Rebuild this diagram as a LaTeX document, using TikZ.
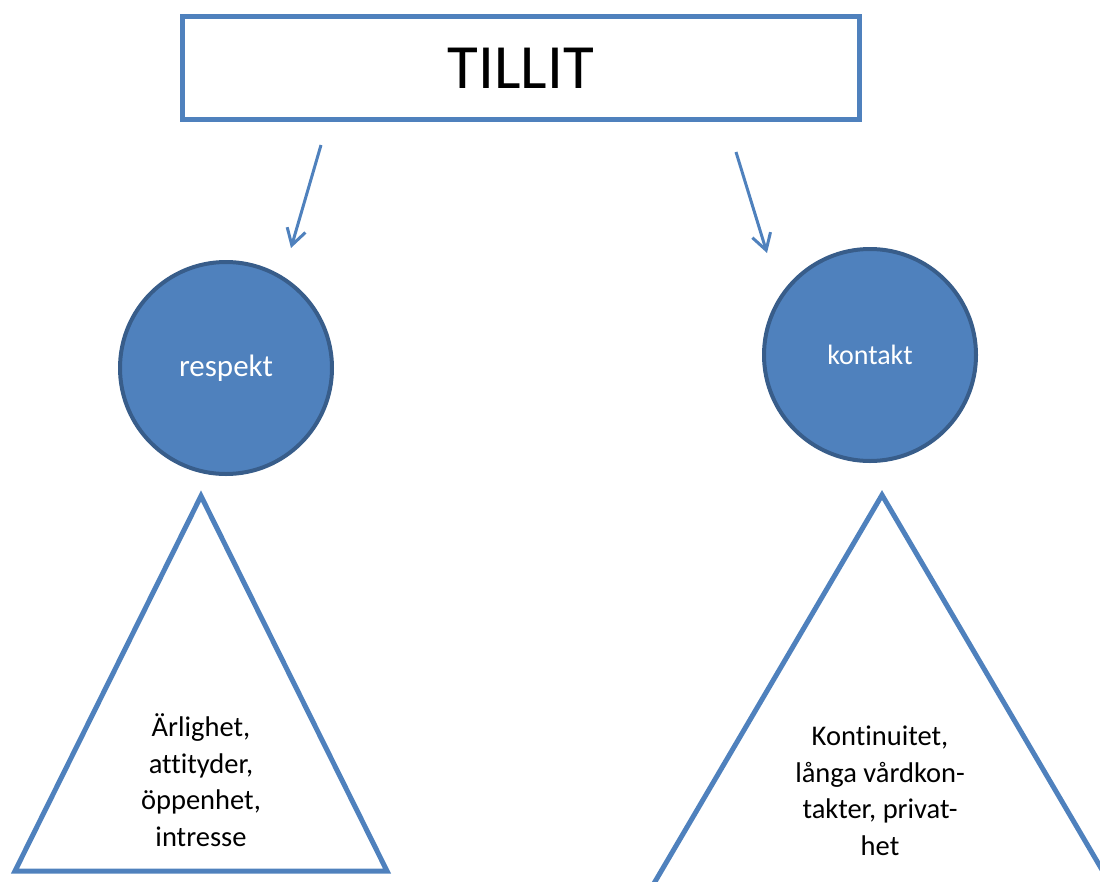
\documentclass[tikz,border=0pt]{standalone}
\usepackage{fontspec}
\setmainfont[Ligatures=NoCommon]{Carlito}
\usetikzlibrary{arrows.meta, positioning}
\definecolor{tilblue}{RGB}{79,129,189}
\definecolor{tildark}{RGB}{56,93,138}

\begin{document}
\begin{tikzpicture}[
        x=1pt, y=-1pt,
        titlebox/.style={rectangle, draw=tilblue, line width=5pt, minimum width=677pt, minimum height=103pt, inner sep=0pt, font=\fontsize{63}{72}\selectfont},
        ball/.style={circle, draw=tildark, fill=tilblue, line width=4pt, minimum size=212pt, inner sep=0pt, text=white},
        tri/.style={draw=tilblue, line width=5pt, line join=miter},
        tritext/.style={align=center, inner sep=0pt, font=\fontsize{28.5}{36.5}\selectfont},
        arrow/.style={draw=tilblue, line width=3pt, -{Straight Barb[length=16pt, width=19pt]}}
    ]
        \useasboundingbox (0,0) rectangle (1100,881);
        \clip (0,0) rectangle (1100,881);

        \node [titlebox] (tillit) at (521,68) {TILLIT};
        \node [ball, font=\fontsize{31}{36}\selectfont] (respekt) at (226,368) {respekt};
        \node [ball, font=\fontsize{28}{34}\selectfont] (kontakt) at (870,355) {kontakt};

        % triangles below the circles
        \draw [tri] (201,496) -- (387,871) -- (15,871) -- cycle;
        \draw [tri] (882,495) -- (1155,960) -- (609,960) -- cycle;
        \node [tritext] (respekttext) at (201,780) {Ärlighet,\\attityder,\\öppenhet,\\intresse};
        \node [tritext] (kontakttext) at (880,791) {Kontinuitet,\\långa vårdkon-\\takter, privat-\\het};

        \coordinate (leftstart) at (321,145);
        \coordinate (leftend) at (291,248);
        \coordinate (rightstart) at (736,152);
        \coordinate (rightend) at (767,253);
        \path [arrow] (leftstart) -- (leftend);
        \path [arrow] (rightstart) -- (rightend);
    \end{tikzpicture}
\end{document}
